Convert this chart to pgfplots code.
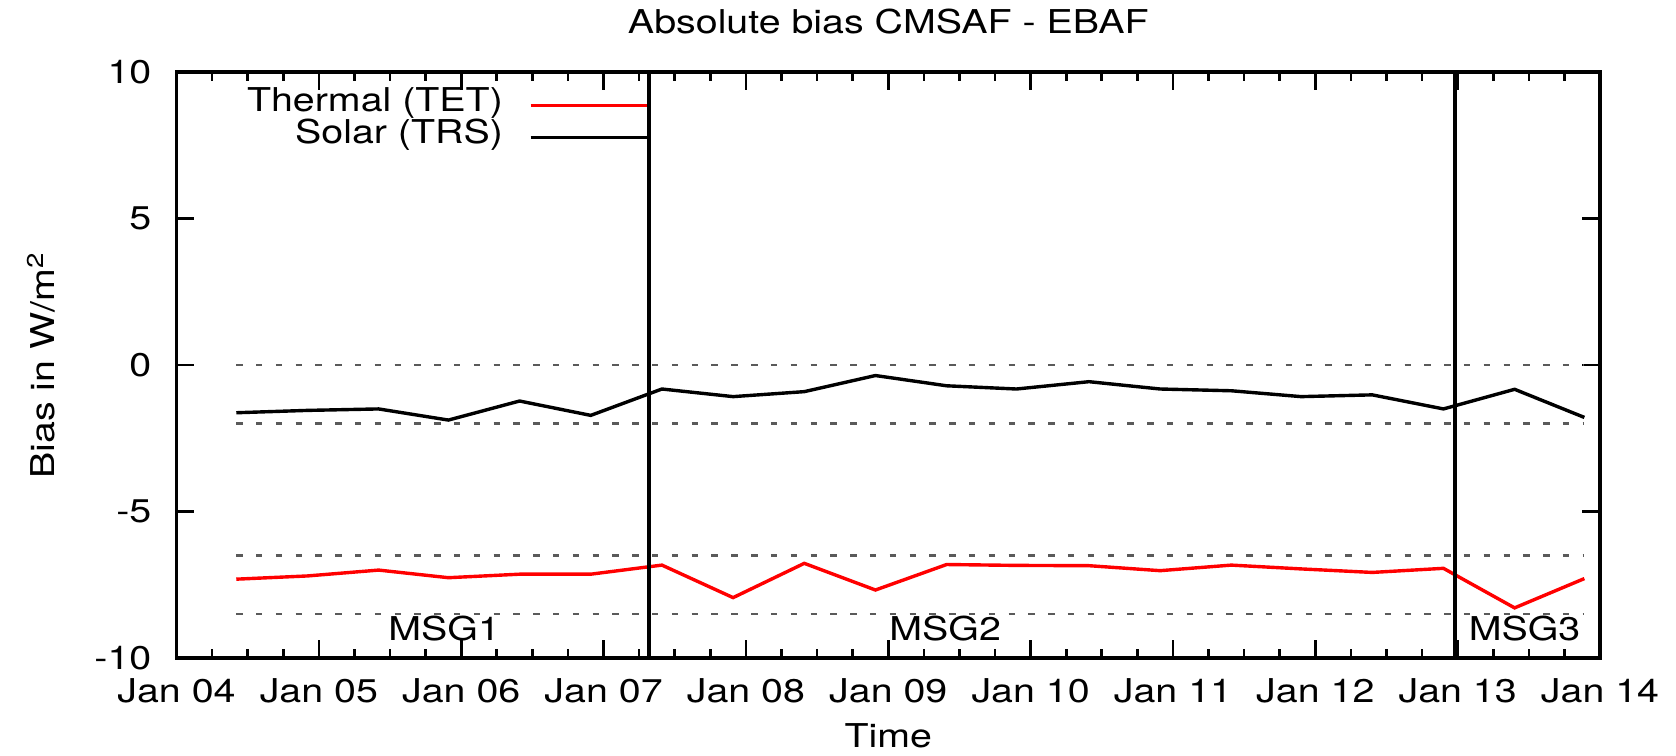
\documentclass[border=0pt]{standalone}
\usepackage{pgfplots}
\pgfplotsset{compat=1.18}
\usepackage{fontspec}
\setmainfont{TeX Gyre Heros}[FakeStretch=1.2]

\definecolor{refgray}{RGB}{90,90,90}

\begin{document}
\begin{tikzpicture}[font=\fontsize{8.2}{9.8}\selectfont]
\useasboundingbox (-44.125pt,-24.5pt) rectangle (374.875pt,164.5pt);
\begin{axis}[
  scale only axis,
  width=355.875pt, height=146.5pt,
  xmin=2004, xmax=2014, ymin=-10, ymax=10,
  xtick={2004,2005,2006,2007,2008,2009,2010,2011,2012,2013,2014},
  xticklabels={Jan 04,Jan 05,Jan 06,Jan 07,Jan 08,Jan 09,Jan 10,Jan 11,Jan 12,Jan 13,Jan 14},
  minor x tick num=3,
  ytick={-10,-5,0,5,10},
  yticklabels={-10,-5,0,5,10},
  major tick length=4.5pt, minor tick length=2.2pt,
  axis line style={line width=0.9pt},
  every tick/.style={black, line width=0.65pt},
  xticklabel style={anchor=base, yshift=-11.25pt, inner sep=0pt},
  yticklabel style={anchor=east, xshift=-6.1pt, inner sep=0pt},
  every axis title shift=0pt,
  title={Absolute bias CMSAF - EBAF},
  title style={at={(axis description cs:0.5,1.0648)}, anchor=base, inner sep=0pt},
  xlabel={Time},
  xlabel style={at={(axis description cs:0.5,-0.1536)}, anchor=base, inner sep=0pt},
  ylabel={Bias in W/m\textsuperscript{2}},
  ylabel style={at={(axis description cs:-0.0854,0.5)}, anchor=base, inner sep=0pt},
  legend plot pos=right,
  legend cell align=right,
  legend image code/.code={\draw[#1] (0pt,0pt) -- (29pt,0pt);},
  legend style={draw=none, fill=none, at={(axis cs:2007.32,9.43)}, anchor=north east,
    inner sep=0pt, row sep=0pt, column sep=6.5pt,
    nodes={inner sep=0pt, text height=5.6pt, text depth=2.4pt}},
  clip=false,
]
% reference levels
\addplot[forget plot, refgray, line width=0.55pt, dash pattern=on 1.6pt off 3.35pt] coordinates {(2004.42,0) (2013.89,0)};
\addplot[forget plot, refgray, line width=0.55pt, dash pattern=on 1.6pt off 3.35pt] coordinates {(2004.42,-2) (2013.89,-2)};
\addplot[forget plot, refgray, line width=0.55pt, dash pattern=on 1.6pt off 3.35pt] coordinates {(2004.42,-6.5) (2013.89,-6.5)};
\addplot[forget plot, refgray, line width=0.55pt, dash pattern=on 1.6pt off 3.35pt] coordinates {(2004.42,-8.5) (2013.89,-8.5)};

% thermal bias
\addplot[red, line width=0.85pt] coordinates {
(2004.42,-7.31) (2004.92,-7.20) (2005.42,-7.00) (2005.91,-7.26) (2006.41,-7.14)
(2006.91,-7.14) (2007.41,-6.83) (2007.91,-7.94) (2008.41,-6.77) (2008.91,-7.68)
(2009.41,-6.81) (2009.90,-6.84) (2010.41,-6.85) (2010.91,-7.02) (2011.41,-6.83)
(2011.90,-6.96) (2012.40,-7.08) (2012.90,-6.94) (2013.40,-8.29) (2013.89,-7.29)};
\addlegendentry{Thermal (TET)}

% solar bias
\addplot[black, line width=0.85pt] coordinates {
(2004.42,-1.63) (2004.92,-1.55) (2005.42,-1.50) (2005.91,-1.88) (2006.41,-1.23)
(2006.91,-1.72) (2007.41,-0.82) (2007.91,-1.08) (2008.41,-0.91) (2008.91,-0.36)
(2009.41,-0.71) (2009.90,-0.82) (2010.41,-0.57) (2010.91,-0.82) (2011.41,-0.88)
(2011.90,-1.08) (2012.40,-1.02) (2012.90,-1.50) (2013.40,-0.83) (2013.89,-1.79)};
\addlegendentry{Solar (TRS)}

% satellite changes
\addplot[forget plot, black, line width=0.85pt] coordinates {(2007.32,-10) (2007.32,10)};
\addplot[forget plot, black, line width=0.85pt] coordinates {(2012.98,-10) (2012.98,10)};

\node[anchor=center, inner sep=0pt] at (axis cs:2005.88,-9.0) {MSG1};
\node[anchor=center, inner sep=0pt] at (axis cs:2009.40,-9.0) {MSG2};
\node[anchor=center, inner sep=0pt] at (axis cs:2013.47,-9.0) {MSG3};
\end{axis}
\end{tikzpicture}
\end{document}
